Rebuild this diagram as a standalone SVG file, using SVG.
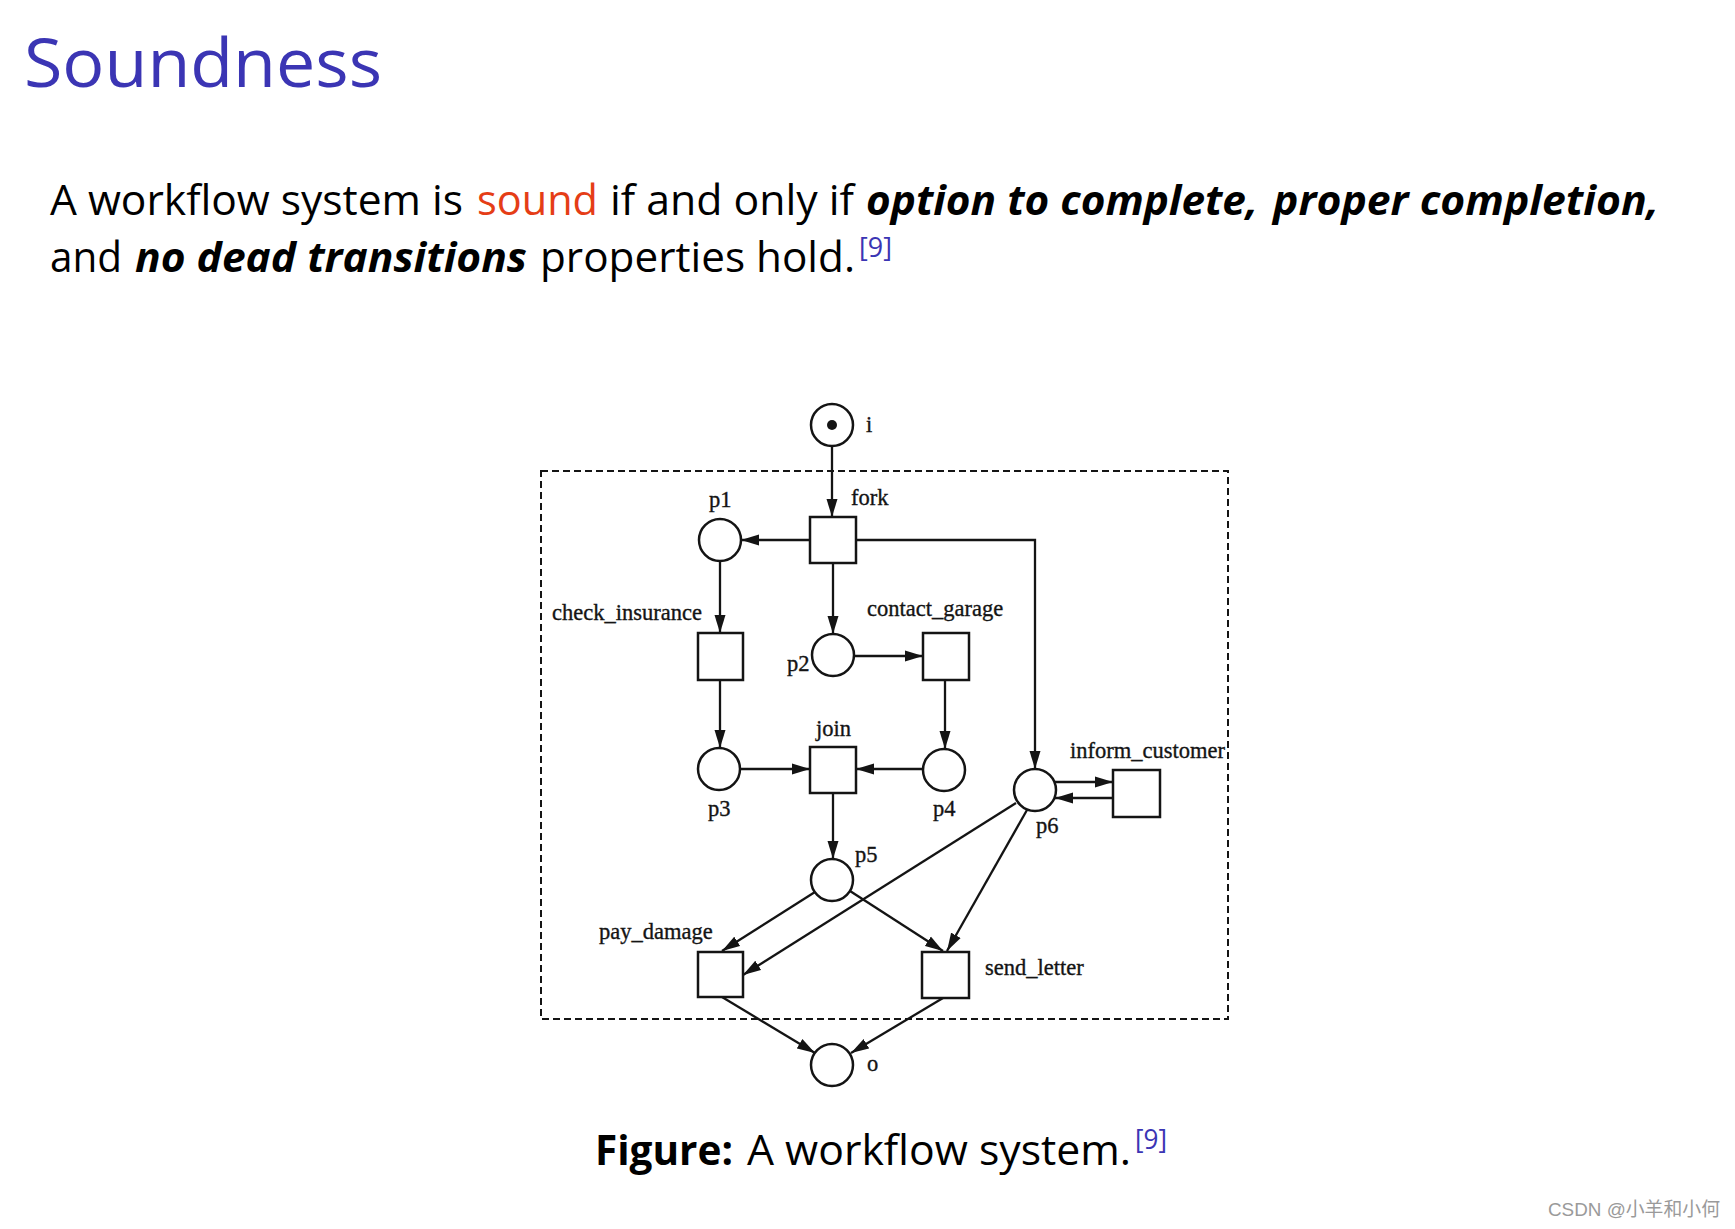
<svg xmlns="http://www.w3.org/2000/svg" width="1735" height="1229" viewBox="0 0 1735 1229">
<style>
.title{font-family:"Open Sans","Noto Sans",sans-serif;font-size:68px;fill:#3B35B4}
.para{font-family:"Open Sans","Noto Sans",sans-serif;font-size:42px;fill:#000}
.bi{font-weight:bold;font-style:italic}
.b{font-weight:bold}
.red{fill:#E53D16}
.sup{font-family:"Open Sans","Noto Sans",sans-serif;font-size:27px;fill:#3B35B4}
.lbl{font-family:"Liberation Serif","Times New Roman",serif;font-size:22.5px;fill:#141414;stroke:#141414;stroke-width:0.35}
.place{fill:#fff;stroke:#141414;stroke-width:2.5}
.trans{fill:#fff;stroke:#141414;stroke-width:2.5}
.arc{fill:none;stroke:#141414;stroke-width:2.3;marker-end:url(#ah)}
.wm{font-family:"Liberation Sans","Noto Sans CJK SC",sans-serif;font-size:19px;fill:#9a9a9a}
</style>
<defs>
<marker id="ah" markerUnits="userSpaceOnUse" markerWidth="18" markerHeight="12" refX="18" refY="6" orient="auto">
<path d="M0,0.5 L18,6 L0,11.5 z" fill="#141414"/>
</marker>
</defs>
<rect width="1735" height="1229" fill="#fff"/>

<text class="title" x="24" y="87" textLength="358" lengthAdjust="spacingAndGlyphs">Soundness</text>

<g id="paragraph">
<text class="para" x="50" y="215" textLength="413" lengthAdjust="spacingAndGlyphs">A workflow system is</text>
<text class="para red" x="477" y="215" textLength="121" lengthAdjust="spacingAndGlyphs">sound</text>
<text class="para" x="610" y="215" textLength="244" lengthAdjust="spacingAndGlyphs">if and only if</text>
<text class="para bi" x="866" y="215" textLength="392" lengthAdjust="spacingAndGlyphs">option to complete,</text>
<text class="para bi" x="1273" y="215" textLength="386" lengthAdjust="spacingAndGlyphs">proper completion,</text>
<text class="para" x="50" y="272" textLength="72" lengthAdjust="spacingAndGlyphs">and</text>
<text class="para bi" x="135" y="272" textLength="392" lengthAdjust="spacingAndGlyphs">no dead transitions</text>
<text class="para" x="540" y="272" textLength="315" lengthAdjust="spacingAndGlyphs">properties hold.</text>
<text class="sup" x="859" y="257" textLength="33" lengthAdjust="spacingAndGlyphs">[9]</text>
</g>

<rect id="boundary" x="541" y="471" width="687" height="548" fill="none" stroke="#141414" stroke-width="2" stroke-dasharray="7 4"/>

<g id="connectors">
<path class="arc" d="M832,446 L832,517"/>
<path class="arc" d="M810,540 L741,540"/>
<path class="arc" d="M856,540 L1035,540 L1035,769"/>
<path class="arc" d="M833,563 L833,634"/>
<path class="arc" d="M720,561 L720,633"/>
<path class="arc" d="M854,656 L923,656"/>
<path class="arc" d="M720,680 L720,748"/>
<path class="arc" d="M945,680 L945,749"/>
<path class="arc" d="M740,769 L810,769"/>
<path class="arc" d="M924,769 L856,769"/>
<path class="arc" d="M833,793 L833,859"/>
<path class="arc" d="M815,892 L722,951"/>
<path class="arc" d="M1016,803 L743,975"/>
<path class="arc" d="M850,891 L943,951"/>
<path class="arc" d="M1027,810 L947,951"/>
<path class="arc" d="M1055,782 L1113,782"/>
<path class="arc" d="M1113,798 L1055,798"/>
<path class="arc" d="M722,997 L815,1053"/>
<path class="arc" d="M943,998 L851,1053"/>
</g>

<g id="i"><circle class="place" cx="832" cy="425" r="21"/><circle cx="832" cy="425" r="5" fill="#141414"/><text class="lbl" x="866" y="432">i</text></g>
<g id="fork"><rect class="trans" x="810" y="517" width="46" height="46"/><text class="lbl" x="851" y="505">fork</text></g>
<g id="p1"><circle class="place" cx="720" cy="540" r="21"/><text class="lbl" x="709" y="507">p1</text></g>
<g id="p2"><circle class="place" cx="833" cy="655" r="21"/><text class="lbl" x="787" y="671">p2</text></g>
<g id="check_insurance"><rect class="trans" x="698" y="633" width="45" height="47"/><text class="lbl" x="552" y="620">check_insurance</text></g>
<g id="contact_garage"><rect class="trans" x="923" y="633" width="46" height="47"/><text class="lbl" x="867" y="616">contact_garage</text></g>
<g id="p3"><circle class="place" cx="719" cy="769" r="21"/><text class="lbl" x="708" y="816">p3</text></g>
<g id="join"><rect class="trans" x="810" y="747" width="46" height="46"/><text class="lbl" x="816" y="736">join</text></g>
<g id="p4"><circle class="place" cx="944" cy="770" r="21"/><text class="lbl" x="933" y="816">p4</text></g>
<g id="p5"><circle class="place" cx="832" cy="880" r="21"/><text class="lbl" x="855" y="862">p5</text></g>
<g id="p6"><circle class="place" cx="1035" cy="790" r="21"/><text class="lbl" x="1036" y="833">p6</text></g>
<g id="inform_customer"><rect class="trans" x="1113" y="770" width="47" height="47"/><text class="lbl" x="1070" y="758">inform_customer</text></g>
<g id="pay_damage"><rect class="trans" x="698" y="952" width="45" height="45"/><text class="lbl" x="599" y="939">pay_damage</text></g>
<g id="send_letter"><rect class="trans" x="922" y="952" width="47" height="46"/><text class="lbl" x="985" y="975">send_letter</text></g>
<g id="o"><circle class="place" cx="832" cy="1065" r="21"/><text class="lbl" x="867" y="1071">o</text></g>

<g id="caption">
<text class="para b" x="595" y="1165" textLength="138" lengthAdjust="spacingAndGlyphs">Figure:</text>
<text class="para" x="747" y="1165" textLength="384" lengthAdjust="spacingAndGlyphs">A workflow system.</text>
<text class="sup" x="1135" y="1149" textLength="32" lengthAdjust="spacingAndGlyphs">[9]</text>
</g>

<text class="wm" x="1548" y="1216" textLength="172" lengthAdjust="spacingAndGlyphs">CSDN @小羊和小何</text>
</svg>
